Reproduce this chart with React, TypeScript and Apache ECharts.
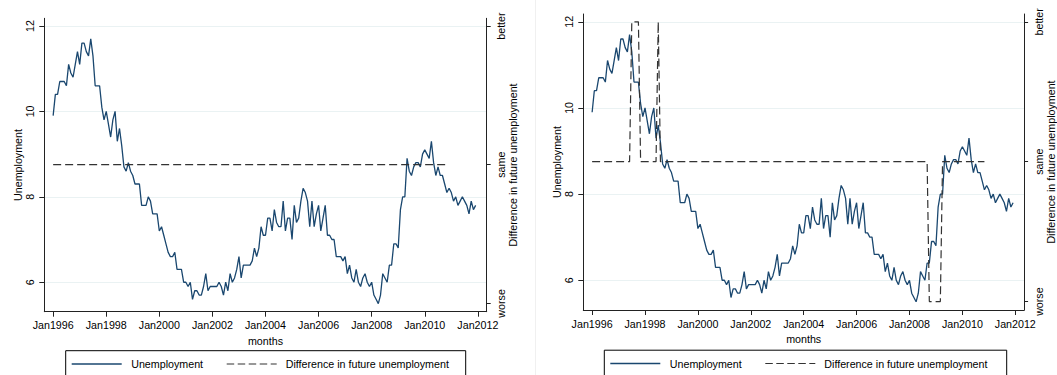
import React, { useEffect, useRef } from "react";
import * as echarts from "echarts";

// Monthly unemployment, Jan1996 (month 0) .. Dec2011 (month 191)
const unemployment: number[] = [
  9.9, 10.4, 10.4, 10.7, 10.7, 10.7, 10.6, 11.1, 10.9, 10.8, 11.1, 11.4,
  11.1, 11.6, 11.6, 11.4, 11.3, 11.7, 11.3, 10.6, 10.6, 10.6, 10.1, 9.8,
  10.0, 9.7, 9.4, 9.8, 10.0, 9.3, 9.6, 9.2, 8.7, 8.6, 8.8, 8.6,
  8.5, 8.3, 8.3, 8.3, 7.8, 7.8, 7.8, 8.0, 7.9, 7.6, 7.6, 7.6,
  7.2, 7.3, 7.1, 6.9, 6.7, 6.6, 6.6, 6.7, 6.3, 6.3, 6.3, 6.0,
  6.0, 5.9, 6.0, 5.6, 5.8, 5.8, 5.7, 5.7, 5.9, 6.2, 5.8, 5.9,
  5.9, 5.9, 5.9, 6.0, 5.9, 5.7, 6.0, 5.8, 6.2, 6.0, 6.1, 6.3,
  6.6, 6.1, 6.4, 6.4, 6.4, 6.4, 6.5, 6.8, 6.6, 6.8, 7.3, 7.1,
  7.1, 7.5, 7.5, 7.2, 7.7, 7.4, 7.3, 7.3, 7.9, 7.2, 7.5, 7.5,
  7.0, 7.8, 7.4, 7.5, 7.9, 8.2, 8.1, 7.9, 7.3, 7.9, 7.3, 7.6,
  7.8, 7.2, 7.5, 7.8, 7.1, 7.1, 7.0, 7.0, 6.6, 6.6, 6.6, 6.5,
  6.6, 6.2, 6.4, 6.1, 6.0, 6.3, 6.0, 5.9, 6.1, 6.2, 6.0, 5.9,
  6.0, 5.7, 5.6, 5.5, 5.7, 6.2, 6.1, 6.0, 6.4, 6.4, 6.9, 6.9,
  6.8, 7.7, 8.0, 8.0, 8.9, 8.6, 8.5, 8.7, 8.8, 8.8, 8.7, 9.0,
  9.1, 9.0, 8.9, 9.3, 8.8, 8.5, 8.7, 8.5, 8.5, 8.3, 8.1, 8.2,
  8.1, 7.9, 8.0, 7.8, 7.9, 8.0, 7.9, 7.8, 7.6, 7.9, 7.7, 7.8,
];

// Difference in future unemployment (-1 worse, 0 same, 1 better), breakpoints [month, value]
const diffMonthsLeft: number[] = [0, 178];
const diffValuesLeft: number[] = [0, 0];
const diffMonthsRight: number[] = [0, 17, 18, 21, 22, 29, 30, 31, 152, 153, 158, 159, 178];
const diffValuesRight: number[] = [0, 0, 1, 1, 0, 0, 1, 0, 0, -1, -1, 0, 0];

const xTickLabels: string[] = ["Jan1996", "Jan1998", "Jan2000", "Jan2002", "Jan2004", "Jan2006", "Jan2008", "Jan2010", "Jan2012"];
const xTickMonths: number[] = [0, 24, 48, 72, 96, 120, 144, 168, 192];
const yTicks: number[] = [6, 8, 10, 12];
const diffTicks: number[] = [-1, 0, 1];
const diffLabels: string[] = ["worse", "same", "better"];

const FONT = "'Liberation Sans', Arial, Helvetica, sans-serif";
const FS = 10.7;
const NAVY = "#1a476f";
const DASH = "#333333";
const AXIS = "#222222";
const GRIDC = "#eaf2f3";

function makeAxes(gi: number) {
  const lineStyle = { color: AXIS, width: 1 };
  const text = { color: "#000", fontSize: FS, fontFamily: FONT };
  const xAxis = {
    type: "value",
    gridIndex: gi,
    min: -4,
    max: 196,
    axisLine: { show: true, onZero: false, lineStyle },
    axisTick: { show: true, length: 5, customValues: xTickMonths, lineStyle },
    axisLabel: {
      customValues: xTickMonths,
      formatter: (v: number) => xTickLabels[xTickMonths.indexOf(Math.round(v))] ?? "",
      margin: 8,
      ...text,
    },
    splitLine: { show: false },
    name: "months",
    nameLocation: "middle",
    nameGap: gi === 0 ? 19 : 20,
    nameTextStyle: text,
  };
  const yLeft = {
    type: "value",
    gridIndex: gi,
    position: "left",
    min: 5.31,
    max: 12.18,
    axisLine: { show: true, onZero: false, lineStyle },
    axisTick: { show: true, length: 5, customValues: yTicks, lineStyle },
    axisLabel: { customValues: yTicks, rotate: 90, margin: 8.5, ...text },
    splitLine: { show: true, lineStyle: { color: GRIDC, width: 1 } },
    name: "Unemployment",
    nameLocation: "middle",
    nameRotate: 90,
    nameGap: 21,
    nameTextStyle: text,
  };
  const yRight = {
    type: "value",
    gridIndex: gi,
    position: "right",
    min: -1.06,
    max: 1.056,
    axisLine: { show: true, onZero: false, lineStyle },
    axisTick: { show: true, length: 4, customValues: diffTicks, lineStyle },
    axisLabel: {
      customValues: diffTicks,
      rotate: 90,
      margin: 9,
      formatter: (v: number) => diffLabels[diffTicks.indexOf(Math.round(v))] ?? "",
      ...text,
    },
    splitLine: { show: false },
    name: "Difference in future unemployment",
    nameLocation: "middle",
    nameRotate: 90,
    nameGap: 19.5,
    nameTextStyle: text,
  };
  return { xAxis, yLeft, yRight };
}

function legendGraphics(x0: number, x1: number, top: number) {
  const cy = top + 13.3;
  const text = { fill: "#000", fontSize: FS, fontFamily: FONT, verticalAlign: "middle", align: "left" };
  return [
    { type: "rect", shape: { x: x0, y: top, width: x1 - x0, height: 40 }, style: { fill: "#fff", stroke: "#000", lineWidth: 1 } },
    { type: "line", shape: { x1: x0 + 6, y1: cy, x2: x0 + 56, y2: cy }, style: { stroke: NAVY, lineWidth: 1.3 } },
    { type: "text", x: x0 + 65.5, y: cy, style: { text: "Unemployment", ...text } },
    { type: "line", shape: { x1: x0 + 161, y1: cy, x2: x0 + 211, y2: cy }, style: { stroke: DASH, lineWidth: 1.2, lineDash: [7.5, 3.5] } },
    { type: "text", x: x0 + 220, y: cy, style: { text: "Difference in future unemployment", ...text } },
  ];
}

export default function App() {
  const ref = useRef<HTMLDivElement>(null);
  useEffect(() => {
    if (!ref.current) return;
    const chart = echarts.init(ref.current, null, { renderer: "svg" });
    const a0 = makeAxes(0);
    const a1 = makeAxes(1);
    const unempData = unemployment.map((v, i) => [i, v]);
    const diffL = diffMonthsLeft.map((m, i) => [m, diffValuesLeft[i]]);
    const diffR = diffMonthsRight.map((m, i) => [m, diffValuesRight[i]]);
    const unempSeries = (xi: number, yi: number) => ({
      type: "line",
      name: "Unemployment",
      xAxisIndex: xi,
      yAxisIndex: yi,
      data: unempData,
      symbol: "none",
      lineStyle: { color: NAVY, width: 1.3 },
      z: 3,
    });
    const diffSeries = (xi: number, yi: number, data: number[][]) => ({
      type: "line",
      name: "Difference in future unemployment",
      xAxisIndex: xi,
      yAxisIndex: yi,
      data,
      symbol: "none",
      lineStyle: { color: DASH, width: 1.2, type: [8, 4] },
      z: 4,
    });
    chart.setOption({
      animation: false,
      backgroundColor: "#fff",
      grid: [
        { left: 44.3, top: 18.3, width: 442.4, height: 293.4 },
        { left: 583.3, top: 14, width: 445, height: 296 },
      ],
      xAxis: [a0.xAxis, a1.xAxis],
      yAxis: [a0.yLeft, a0.yRight, a1.yLeft, a1.yRight],
      series: [
        unempSeries(0, 0),
        diffSeries(0, 1, diffL),
        unempSeries(1, 2),
        diffSeries(1, 3, diffR),
      ],
      graphic: [
        { type: "line", shape: { x1: 535.5, y1: 0, x2: 535.5, y2: 375 }, style: { stroke: "#f0f0f0", lineWidth: 1 } },
        ...legendGraphics(65.7, 465.7, 350.7),
        ...legendGraphics(604.3, 1006.7, 350.2),
      ],
    });
    return () => chart.dispose();
  }, []);
  return (
    <div
      ref={ref}
      style={{ position: "fixed", left: 0, top: 0, width: 1057, height: 375, background: "#fff" }}
    />
  );
}
